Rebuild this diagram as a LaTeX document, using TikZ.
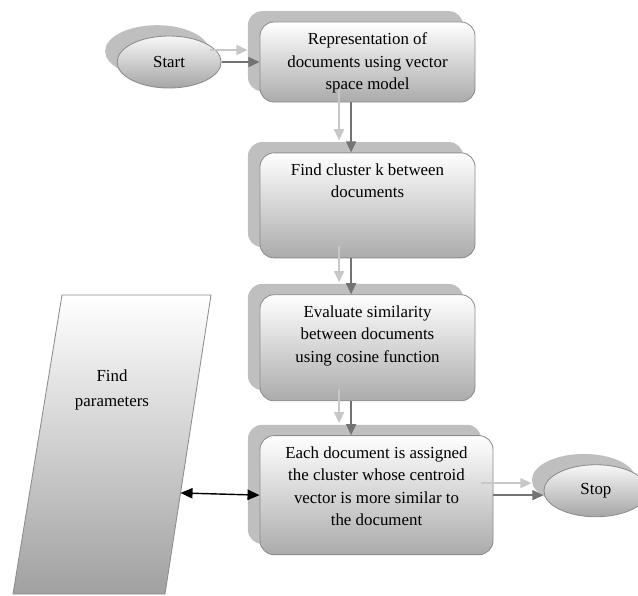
\documentclass[tikz,border=0pt]{standalone}
\usepackage{fontspec}
\setmainfont{Liberation Serif}
\usetikzlibrary{arrows.meta, positioning, shapes.geometric, shadows, calc}

\begin{document}
\begin{tikzpicture}[x=0.025cm, y=-0.025cm,
		back/.style={drop shadow={shadow xshift=-0.3cm, shadow yshift=0.27cm,
						fill=black!25, opacity=1}},
		stepbox/.style={draw=black!45, line width=0.6pt, rounded corners=0.35cm,
						top color=white, bottom color=black!33, minimum width=5.375cm, back},
		term/.style={ellipse, draw=black!45, line width=0.6pt, top color=black!3,
						bottom color=black!35, minimum width=2.6cm, minimum height=1.3cm, back,
						font=\fontsize{12}{16}\selectfont},
		txt/.style={align=center, inner sep=0pt, font=\fontsize{12}{16}\selectfont},
		flow/.style={draw=black!55, line width=1.3pt, -{Triangle[length=0.28cm, width=0.25cm]}},
		flowback/.style={flow, draw=black!22, transform canvas={shift={(-0.3cm,0.3cm)}}},
		both/.style={draw=black, line width=1pt, {Triangle[length=0.3cm, width=0.26cm]}-{Triangle[length=0.3cm, width=0.26cm]}}]
			\useasboundingbox (0,0) rectangle (638,595);

			\node[stepbox, minimum height=2cm] (b1) at (367.5,62) {};
			\node[stepbox, minimum height=2.625cm, below=1.25cm of b1] (b2) {};
			\node[stepbox, minimum height=2.65cm, below=0.9cm of b2] (b3) {};
			\node[stepbox, minimum width=5.825cm, minimum height=2.975cm,
				below=0.85cm of b3, xshift=0.225cm] (b4) {};

			\node[txt, below=0.27cm of b1.north] (t1) {Representation of\\documents using vector\\space model};
			\node[txt, below=0.27cm of b2.north] (t2) {Find cluster k between\\documents};
			\node[txt, below=0.27cm of b3.north] (t3) {Evaluate similarity\\between documents\\using cosine function};
			\node[txt, below=0.27cm of b4.north] (t4) {Each document is assigned\\the cluster whose centroid\\vector is more similar to\\the document};

			\node[term, left=0.95cm of b1] (start) {Start};
			\node[term, right=1.25cm of b4, yshift=0.11cm] (stop) {Stop};

			\coordinate (ptl) at (62,295);
			\coordinate (ptr) at (211,295);
			\coordinate (pbr) at (165,594);
			\coordinate (pbl) at (13,594);
			\shade[draw=black!45, line width=0.6pt, top color=white, bottom color=black!37]
				(ptl) -- (ptr) -- (pbr) -- (pbl) -- cycle;
			\node[txt, font=\fontsize{12}{17.5}\selectfont] (param) at (112,390) {Find\\parameters};

			\draw[flowback] (start.east) -- (start.east -| b1.west);
			\draw[flow] (start.east) -- (start.east -| b1.west);
			\draw[flowback] ([xshift=-0.41cm]b1.south) -- ([xshift=-0.41cm]b1.south |- b2.north);
			\draw[flow] ([xshift=-0.41cm]b1.south) -- ([xshift=-0.41cm]b1.south |- b2.north);
			\draw[flowback] ([xshift=-0.41cm]b2.south) -- ([xshift=-0.41cm]b2.south |- b3.north);
			\draw[flow] ([xshift=-0.41cm]b2.south) -- ([xshift=-0.41cm]b2.south |- b3.north);
			\draw[flowback] ([xshift=-0.41cm]b3.south) -- ([xshift=-0.41cm]b3.south |- b4.north);
			\draw[flow] ([xshift=-0.41cm]b3.south) -- ([xshift=-0.41cm]b3.south |- b4.north);
			\draw[flowback] (b4.east) -- (b4.east -| stop.west);
			\draw[flow] (b4.east) -- (b4.east -| stop.west);
			\draw[both] (b4.west) -- ($(ptr)!0.662!(pbr)$);
		\end{tikzpicture}
\end{document}
